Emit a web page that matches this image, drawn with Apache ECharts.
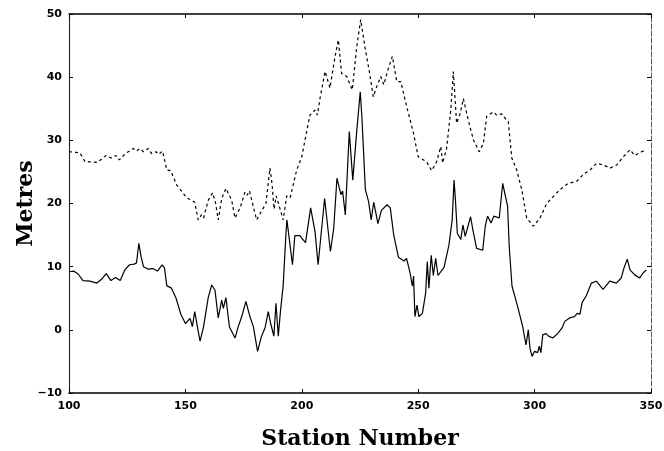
<!DOCTYPE html>
<html>
<head>
<meta charset="utf-8">
<script src="https://cdn.jsdelivr.net/npm/echarts@6/dist/echarts.min.js"></script>
<style>
  html, body { margin: 0; padding: 0; background: #fff; }
  #chart { width: 664px; height: 451px; }
</style>
</head>
<body>
<div id="chart"></div>
<script>
// Lower profile (solid line): station numbers and heights in metres
var lowerStations = [100, 102, 104, 106, 109, 112, 114, 116, 118, 120, 122, 124, 126, 128, 129, 130, 131, 132, 134, 136, 138, 140, 141, 142, 144, 146, 148, 150, 152, 153, 154, 155, 156.3, 157.7, 159.8, 161.3, 162.7, 164.1, 165.6, 166.3, 167.4, 168.9, 171.3, 172.7, 174.2, 176, 177.7, 179.2, 181, 182.7, 184.2, 185.6, 186.5, 188, 188.9, 189.9, 190.9, 192, 193.2, 193.6, 196, 197, 199.2, 200.5, 201.6, 203.8, 205.7, 207, 209.8, 212.3, 213.7, 215.1, 216.8, 217.5, 218.7, 220.4, 221.9, 223.7, 225.1, 225.8, 227.3, 228.7, 229.8, 230.9, 232.7, 234.2, 236.6, 238, 239.5, 241.5, 243.9, 245, 246.5, 247.5, 248, 248.6, 249.5, 250.3, 251.8, 253.2, 253.9, 254.6, 255.6, 256.5, 257.5, 258.5, 261.1, 263.2, 264.6, 265.4, 266, 266.8, 268.3, 269.2, 270.2, 272.5, 273.5, 275.1, 277.7, 278.8, 279.8, 281.3, 282.5, 284.8, 285.6, 286.3, 287.5, 288.4, 289.1, 290.3, 291, 292.7, 294.9, 296.3, 297.3, 298, 298.9, 300, 301.3, 302, 302.7, 303.5, 304.9, 306, 307.8, 309.9, 311.8, 312.9, 315.1, 317.1, 318.3, 319.5, 320.4, 322.2, 324.4, 326.5, 329.4, 332.3, 335.1, 337.2, 338.4, 339.8, 341, 343, 345.1, 346.6, 348];
var lowerValues = [9.2, 9.3, 8.8, 7.8, 7.7, 7.4, 8.0, 8.9, 7.8, 8.3, 7.8, 9.5, 10.3, 10.4, 10.6, 13.7, 11.5, 10.0, 9.6, 9.7, 9.3, 10.3, 9.8, 7.0, 6.6, 5.0, 2.5, 1.0, 1.8, 0.5, 2.9, 0.8, -1.8, 0.3, 5.1, 7.1, 6.3, 1.9, 4.7, 3.4, 5.1, 0.5, -1.3, 0.5, 2.1, 4.5, 2.1, 0.5, -3.4, -1.0, 0.3, 2.9, 1.2, -1.0, 4.2, -1.0, 3.2, 7.0, 15.3, 17.4, 10.3, 14.9, 14.9, 14.3, 13.8, 19.3, 15.5, 10.3, 20.8, 12.4, 16.0, 24.0, 21.4, 22.0, 18.2, 31.4, 23.7, 31.9, 37.7, 33.8, 22.2, 20.3, 17.4, 20.2, 16.8, 18.9, 19.8, 19.3, 15.0, 11.5, 10.9, 11.3, 9.0, 6.9, 8.5, 2.1, 3.9, 2.1, 2.6, 5.8, 10.8, 6.6, 11.8, 8.6, 11.3, 8.6, 9.9, 13.4, 17.4, 23.7, 20.5, 15.3, 14.3, 16.6, 14.8, 17.9, 15.8, 12.9, 12.6, 16.4, 18.0, 16.9, 18.0, 17.7, 20.6, 23.2, 21.1, 19.6, 13.2, 6.9, 6.6, 3.7, 0.5, -2.4, 0.0, -2.9, -4.2, -3.4, -3.6, -2.6, -3.6, -0.8, -0.6, -1.0, -1.3, -0.6, 0.3, 1.3, 1.9, 2.1, 2.6, 2.5, 4.3, 5.4, 7.4, 7.7, 6.4, 7.7, 7.4, 8.2, 9.8, 11.2, 9.5, 8.7, 8.2, 9.0, 9.5];

// Upper profile (dashed line)
var upperStations = [100, 103, 104.7, 106.9, 109, 111.9, 114, 115.9, 118, 120.2, 121.6, 124.5, 126, 127.6, 129, 130.5, 132, 134.1, 135.5, 137.4, 138.5, 140.2, 142, 143.7, 146.3, 149.1, 150.5, 152.7, 154, 155.5, 156.9, 157.8, 159.8, 161.7, 163, 164.1, 165.6, 167.4, 169.9, 171.3, 173.5, 175.6, 176.5, 177.5, 178.5, 180.6, 182.7, 184.6, 186.3, 187.2, 188.1, 189, 190.3, 192, 193.5, 195, 197.8, 200, 201.4, 203.5, 205.7, 206.7, 207.8, 210, 212.1, 214.3, 215.7, 217.1, 219.3, 221.7, 223.6, 225.3, 227.1, 229, 230.7, 232.2, 233.9, 235.2, 237.2, 238.9, 240.8, 242.5, 245.1, 248, 250, 253.6, 255.8, 257.9, 259.7, 260.5, 262.2, 264, 265.1, 266.5, 268, 269.4, 271.5, 273.7, 276.2, 278, 279.4, 282.3, 283.7, 285.9, 287.3, 288.7, 290.2, 292.3, 294.5, 296.6, 299.5, 302.3, 305.2, 308, 310.9, 314.5, 318.1, 320.9, 323.8, 326.7, 329.5, 332.4, 335.3, 338.1, 341, 343, 346, 348];
var upperValues = [28.2, 28.1, 28.0, 26.6, 26.6, 26.5, 27.0, 27.6, 27.2, 27.6, 26.9, 28.0, 28.3, 28.7, 28.3, 28.7, 28.2, 28.7, 27.9, 28.2, 27.8, 28.3, 25.3, 25.2, 22.9, 21.6, 20.9, 20.5, 20.2, 17.4, 18.2, 17.7, 20.5, 21.7, 20.0, 17.4, 20.8, 22.4, 20.5, 17.7, 19.3, 21.8, 21.3, 22.0, 20.5, 17.4, 18.8, 20.0, 25.6, 23.2, 19.1, 21.2, 19.6, 17.4, 21.2, 20.9, 25.3, 27.4, 30.1, 34.0, 34.8, 34.0, 36.6, 40.9, 38.3, 43.3, 45.9, 40.6, 40.1, 38.0, 44.8, 49.1, 44.8, 40.9, 36.9, 38.5, 40.1, 38.8, 41.4, 43.3, 39.3, 39.3, 35.3, 31.1, 27.4, 26.6, 25.2, 26.6, 29.0, 26.4, 28.7, 34.8, 40.9, 32.7, 34.2, 36.6, 33.2, 30.1, 28.2, 29.5, 33.8, 34.5, 34.0, 34.2, 33.5, 33.0, 27.2, 25.3, 22.2, 17.7, 16.4, 17.7, 20.0, 21.1, 22.2, 23.2, 23.5, 24.6, 25.3, 26.4, 26.1, 25.6, 26.1, 27.4, 28.5, 27.6, 28.2, 28.5];

var xTicks = { min: 100, max: 350, step: 50 };
var yTicks = { min: -10, max: 50, step: 10 };

function pairs(xs, ys) {
  var out = [];
  for (var i = 0; i < xs.length; i++) out.push([xs[i], ys[i]]);
  return out;
}

var tickFont = { fontFamily: 'DejaVu Sans', fontSize: 11, fontWeight: 'bold', color: '#000' };
var nameFont = { fontFamily: 'DejaVu Serif', fontSize: 22, fontWeight: 'bold', color: '#000' };
var tickIn = { show: true, inside: true, length: 4, lineStyle: { color: '#000', width: 1 } };

function frameLine(color, width, type) {
  return { show: true, onZero: false, lineStyle: { color: color, width: width, type: type || 'solid' } };
}

var chart = echarts.init(document.getElementById('chart'), null, { renderer: 'canvas' });
chart.setOption({
  animation: false,
  backgroundColor: '#fff',
  grid: { left: 69, right: 13, top: 14, bottom: 58, containLabel: false, outerBoundsMode: 'none' },
  xAxis: [
    {
      type: 'value', position: 'bottom',
      min: xTicks.min, max: xTicks.max, interval: xTicks.step,
      name: 'Station Number', nameLocation: 'middle', nameGap: 35, nameMoveOverlap: false,
      nameTextStyle: nameFont,
      axisLine: frameLine('#000', 1.5), axisTick: tickIn,
      axisLabel: Object.assign({ margin: 8, formatter: function (v) { return String(v); } }, tickFont),
      splitLine: { show: false }
    },
    {
      type: 'value', position: 'top',
      min: xTicks.min, max: xTicks.max, interval: xTicks.step,
      axisLine: frameLine('#000', 1.5), axisTick: tickIn,
      axisLabel: { show: false }, splitLine: { show: false }
    }
  ],
  yAxis: [
    {
      type: 'value', position: 'left',
      min: yTicks.min, max: yTicks.max, interval: yTicks.step,
      name: 'Metres', nameLocation: 'middle', nameGap: 32, nameMoveOverlap: false,
      nameTextStyle: nameFont,
      axisLine: frameLine('#222', 1.1), axisTick: tickIn,
      axisLabel: Object.assign({ margin: 7, formatter: function (v) { return v < 0 ? '\u2212' + Math.abs(v) : String(v); } }, tickFont),
      splitLine: { show: false }
    },
    {
      type: 'value', position: 'right',
      min: yTicks.min, max: yTicks.max, interval: yTicks.step,
      axisLine: frameLine('#555', 1, [5, 2]),
      axisTick: tickIn,
      axisLabel: { show: false }, splitLine: { show: false }
    }
  ],
  series: [
    {
      name: 'upper', type: 'line', showSymbol: false,
      data: pairs(upperStations, upperValues),
      lineStyle: { color: '#000', width: 1.2, type: [3, 3] }
    },
    {
      name: 'lower', type: 'line', showSymbol: false,
      data: pairs(lowerStations, lowerValues),
      lineStyle: { color: '#000', width: 1.2 }
    }
  ]
});
</script>
</body>
</html>
